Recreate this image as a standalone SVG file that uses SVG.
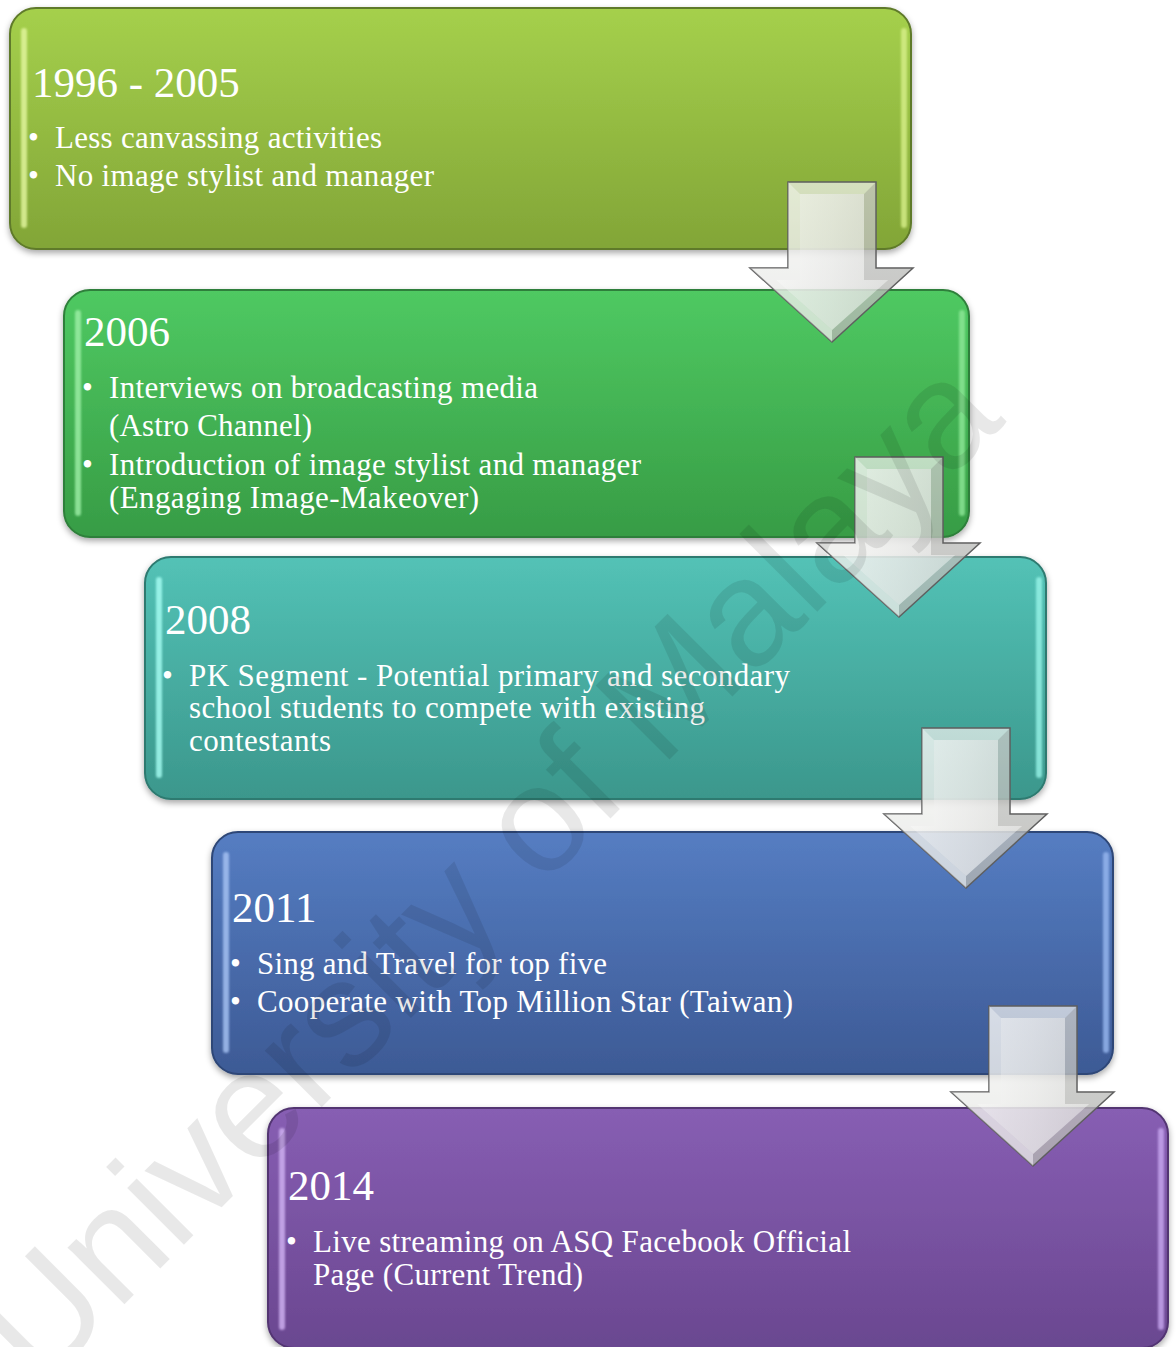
<svg xmlns="http://www.w3.org/2000/svg" width="1176" height="1347" viewBox="0 0 1176 1347">
  <defs>
    <style>
      .box { stroke-width: 2; filter: url(#shadow); }
      .hl { stroke: none; opacity: 0.8; filter: url(#soft); }
      .title { font-family: "Liberation Serif", "Times New Roman", serif; font-size: 43px; fill: #ffffff; }
      .body { font-family: "Liberation Serif", "Times New Roman", serif; font-size: 31px; fill: #ffffff; }
      .bullet { font-family: "Liberation Serif", "Times New Roman", serif; font-size: 31px; fill: #ffffff; }
      .arrow-outer { fill: url(#arrowFill); fill-opacity: 0.72; stroke: #5e5e5e; stroke-width: 1.5; stroke-linejoin: miter; }
      .arrow-inner { fill: url(#arrowInner); fill-opacity: 0.55; stroke: none; }
      .arrow-facet-l { fill: #ffffff; fill-opacity: 0.35; }
      .arrow-facet-r { fill: #707070; fill-opacity: 0.25; }
      .watermark { font-family: "Liberation Sans", Arial, sans-serif; font-size: 152px; fill: #000000; fill-opacity: 0.09; }
    </style>
    <filter id="shadow" x="-5%" y="-5%" width="110%" height="115%">
      <feDropShadow dx="0" dy="3" stdDeviation="3" flood-color="#000" flood-opacity="0.35"/>
    </filter>
    <filter id="soft" filterUnits="userSpaceOnUse" x="0" y="0" width="1176" height="1347">
      <feGaussianBlur stdDeviation="1.3"/>
    </filter>
    <linearGradient id="g1" x1="0" y1="0" x2="0" y2="1">
      <stop offset="0" stop-color="#a5d04c"/>
      <stop offset="1" stop-color="#82a537"/>
    </linearGradient>
    <linearGradient id="g2" x1="0" y1="0" x2="0" y2="1">
      <stop offset="0" stop-color="#4fc962"/>
      <stop offset="1" stop-color="#379c45"/>
    </linearGradient>
    <linearGradient id="g3" x1="0" y1="0" x2="0" y2="1">
      <stop offset="0" stop-color="#53c2b6"/>
      <stop offset="1" stop-color="#3b978c"/>
    </linearGradient>
    <linearGradient id="g4" x1="0" y1="0" x2="0" y2="1">
      <stop offset="0" stop-color="#557dc2"/>
      <stop offset="1" stop-color="#3d5a95"/>
    </linearGradient>
    <linearGradient id="g5" x1="0" y1="0" x2="0" y2="1">
      <stop offset="0" stop-color="#875eb3"/>
      <stop offset="1" stop-color="#6a4790"/>
    </linearGradient>
    <linearGradient id="arrowFill" x1="0" y1="0" x2="0" y2="1">
      <stop offset="0" stop-color="#f2f2f0"/>
      <stop offset="1" stop-color="#d4d6d0"/>
    </linearGradient>
    <linearGradient id="arrowInner" x1="0" y1="0" x2="1" y2="0">
      <stop offset="0" stop-color="#ffffff"/>
      <stop offset="0.5" stop-color="#eeeeee"/>
      <stop offset="1" stop-color="#d8d8d8"/>
    </linearGradient>
    <!-- bevelled down arrow, drawn once and placed between stages -->
    <g id="downArrow">
      <polygon class="arrow-outer" points="788,182 876,182 876,268 913,268 832,342 750,268 788,268"/>
      <polygon class="arrow-facet-l" points="788,182 800,194 800,280 776,280 832,330 832,342 750,268 788,268"/>
      <polygon class="arrow-facet-r" points="876,182 864,194 864,280 888,280 832,330 832,342 913,268 876,268"/>
      <polygon class="arrow-inner" points="800,194 864,194 864,280 888,280 832,330 776,280 800,280"/>
    </g>
  </defs>

  <!-- timeline stages -->
  <g id="stage-1996-2005">
    <rect class="box" x="10" y="8" width="901" height="241" rx="26" fill="url(#g1)" stroke="#5f7a2a"/>
    <rect class="hl" x="21" y="28" width="6" height="200" rx="3" fill="#e4f7a0"/>
    <rect class="hl" x="901" y="28" width="6" height="200" rx="3" fill="#d8f08a"/>
    <text class="title" x="32" y="97">1996 - 2005</text>
    <text class="bullet" x="28" y="148">•</text>
    <text class="body" x="55" y="148" textLength="327" lengthAdjust="spacing">Less canvassing activities</text>
    <text class="bullet" x="28" y="186">•</text>
    <text class="body" x="55" y="186" textLength="379" lengthAdjust="spacing">No image stylist and manager</text>
  </g>

  <g id="stage-2006">
    <rect class="box" x="64" y="290" width="905" height="247" rx="26" fill="url(#g2)" stroke="#2e7f3a"/>
    <rect class="hl" x="75" y="310" width="6" height="206" rx="3" fill="#9ff0a8"/>
    <rect class="hl" x="959" y="310" width="6" height="206" rx="3" fill="#8ee898"/>
    <text class="title" x="84" y="346">2006</text>
    <text class="bullet" x="82" y="398">•</text>
    <text class="body" x="109" y="398" textLength="429" lengthAdjust="spacing">Interviews on broadcasting media</text>
    <text class="body" x="109" y="436" textLength="203" lengthAdjust="spacing">(Astro Channel)</text>
    <text class="bullet" x="82" y="475">•</text>
    <text class="body" x="109" y="475" textLength="532" lengthAdjust="spacing">Introduction of image stylist and manager</text>
    <text class="body" x="109" y="508" textLength="370" lengthAdjust="spacing">(Engaging Image-Makeover)</text>
  </g>

  <g id="stage-2008">
    <rect class="box" x="145" y="557" width="901" height="242" rx="26" fill="url(#g3)" stroke="#2d7a70"/>
    <rect class="hl" x="156" y="577" width="6" height="201" rx="3" fill="#a8fff4"/>
    <rect class="hl" x="1036" y="577" width="6" height="201" rx="3" fill="#98f4e8"/>
    <text class="title" x="165" y="634">2008</text>
    <text class="bullet" x="162" y="686">•</text>
    <text class="body" x="189" y="686" textLength="601" lengthAdjust="spacing">PK Segment - Potential primary and secondary</text>
    <text class="body" x="189" y="718" textLength="516" lengthAdjust="spacing">school students to compete with existing</text>
    <text class="body" x="189" y="751" textLength="142" lengthAdjust="spacing">contestants</text>
  </g>

  <g id="stage-2011">
    <rect class="box" x="212" y="832" width="901" height="242" rx="26" fill="url(#g4)" stroke="#2d4677"/>
    <rect class="hl" x="223" y="852" width="6" height="201" rx="3" fill="#a8c4f4"/>
    <rect class="hl" x="1103" y="852" width="6" height="201" rx="3" fill="#98b8f0"/>
    <text class="title" x="232" y="922">2011</text>
    <text class="bullet" x="230" y="974">•</text>
    <text class="body" x="257" y="974" textLength="350" lengthAdjust="spacing">Sing and Travel for top five</text>
    <text class="bullet" x="230" y="1012">•</text>
    <text class="body" x="257" y="1012" textLength="536" lengthAdjust="spacing">Cooperate with Top Million Star (Taiwan)</text>
  </g>

  <g id="stage-2014">
    <rect class="box" x="268" y="1108" width="900" height="240" rx="26" fill="url(#g5)" stroke="#523572"/>
    <rect class="hl" x="279" y="1128" width="6" height="202" rx="3" fill="#d2b4f4"/>
    <rect class="hl" x="1158" y="1128" width="6" height="202" rx="3" fill="#c8a8f0"/>
    <text class="title" x="288" y="1200">2014</text>
    <text class="bullet" x="286" y="1252">•</text>
    <text class="body" x="313" y="1252" textLength="538" lengthAdjust="spacing">Live streaming on ASQ Facebook Official</text>
    <text class="body" x="313" y="1285" textLength="270" lengthAdjust="spacing">Page (Current Trend)</text>
  </g>

  <!-- down arrows between stages -->
  <g id="connectors">
    <use href="#downArrow"/>
    <use href="#downArrow" transform="translate(67,275)"/>
    <use href="#downArrow" transform="translate(134,546)"/>
    <use href="#downArrow" transform="translate(201,824)"/>
  </g>

  <!-- watermark -->
  <text class="watermark" x="2" y="1352" dominant-baseline="central" transform="rotate(-45 2 1352)">University of Malaya</text>
</svg>
